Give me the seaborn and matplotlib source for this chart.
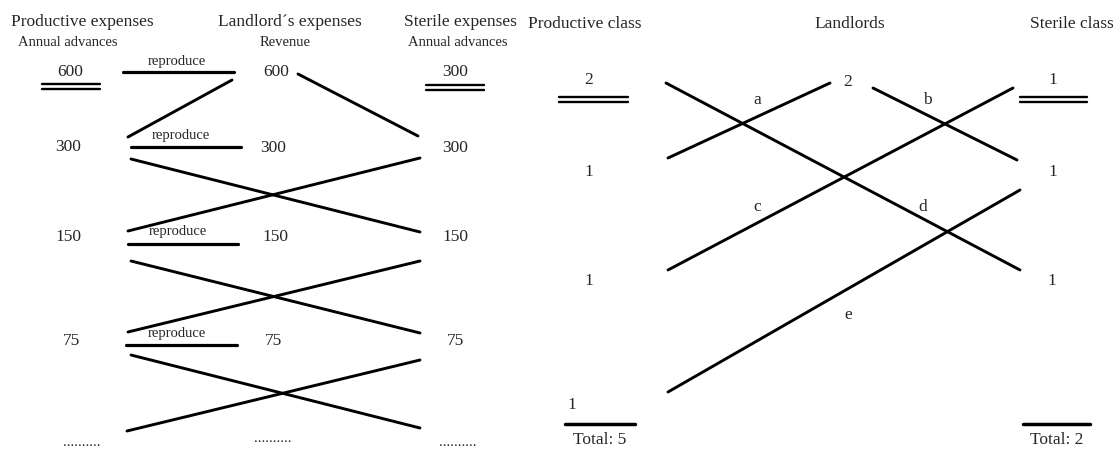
import matplotlib
matplotlib.use("Agg")
import matplotlib.pyplot as plt
import seaborn as sns
import pandas as pd

sns.set_theme(style="white")
plt.rcParams['font.family'] = ['Liberation Serif', 'DejaVu Serif']

# ---------------- data ----------------
left_headers = ["Productive expenses", "Landlord\u00b4s expenses", "Sterile expenses"]
left_subheaders = ["Annual advances", "Revenue", "Annual advances"]
productive_values = [600, 300, 150, 75]
landlord_values = [600, 300, 150, 75]
sterile_values = [300, 300, 150, 75]
reproduce_label = "reproduce"
dots_label = ".........."

right_headers = ["Productive class", "Landlords", "Sterile class"]
right_prod_values = ["2", "1", "1", "1"]
right_land_values = ["2"]
right_ster_values = ["1", "1", "1"]
flow_labels = ["a", "b", "c", "d", "e"]
totals = ["Total: 5", "Total: 2"]

# ---------------- layout (pixel coordinates) ----------------
W, H = 1120, 450
row_y = [72, 147, 237, 341]

# segments: (x0, y0, x1, y1, lw)
segments = [
    # left panel, reproduce lines
    (123, 72, 234, 72, 2.3),
    (131, 147, 241, 147, 2.3),
    (128, 244, 238, 244, 2.3),
    (126, 345, 237, 345, 2.3),
    # left panel, diagonals
    (232, 80, 128, 137, 2.1),
    (298, 74, 418, 136, 2.1),
    (131, 159, 420, 232, 2.1),
    (420, 158, 128, 231, 2.1),
    (131, 261, 420, 333, 2.1),
    (420, 261, 128, 332, 2.1),
    (131, 355, 420, 428, 2.1),
    (420, 360, 127, 431, 2.1),
    # double underlines left
    (42, 84, 100, 84, 1.7), (42, 88.5, 100, 88.5, 1.7),
    (426, 85, 484, 85, 1.7), (426, 89.5, 484, 89.5, 1.7),
    # right panel diagonals
    (666, 83, 1020, 270, 2.1),
    (668, 158, 830, 83, 2.1),
    (873, 88, 1017, 160, 2.1),
    (668, 270, 1013, 88, 2.1),
    (668, 392, 1020, 190, 2.1),
    # double underlines right
    (559, 97, 628, 97, 1.7), (559, 101.5, 628, 101.5, 1.7),
    (1020, 97, 1087, 97, 1.7), (1020, 101.5, 1087, 101.5, 1.7),
    # total lines
    (565, 424, 635, 424, 2.5),
    (1023, 424, 1090, 424, 2.5),
]

rows = []
for i, (x0, y0, x1, y1, lw) in enumerate(segments):
    rows.append({"seg": i, "x": x0, "y": y0, "lw": lw})
    rows.append({"seg": i, "x": x1, "y": y1, "lw": lw})
df = pd.DataFrame(rows)

fig = plt.figure(figsize=(11.2, 4.5), dpi=100)
ax = fig.add_axes([0, 0, 1, 1])

for lw, sub in df.groupby("lw"):
    sns.lineplot(data=sub, x="x", y="y", units="seg", estimator=None,
                 sort=False, color="black", linewidth=lw, ax=ax, legend=False)
ax.set_xlim(0, W)
ax.set_ylim(H, 0)
ax.axis("off")

fs_head = 12.5
fs_sub = 10.5
fs_val = 12.5
fs_rep = 10.5

# left headers
for x, t in zip([82, 290, 460], left_headers):
    ax.text(x, 22, t, ha="center", va="center", fontsize=fs_head)
for x, t in zip([68, 285, 458], left_subheaders):
    ax.text(x, 42, t, ha="center", va="center", fontsize=fs_sub)

# values
lx = [70, 68, 68, 72]
mx = [276, 273, 275, 273]
rx = [455, 455, 455, 455]
mry = [72, 148, 237, 341]
for i in range(len(productive_values)):
    ax.text(lx[i], row_y[i], str(productive_values[i]), ha="center", va="center", fontsize=fs_val)
    ax.text(mx[i], mry[i], str(landlord_values[i]), ha="center", va="center", fontsize=fs_val)
    ax.text(rx[i], mry[i], str(sterile_values[i]), ha="center", va="center", fontsize=fs_val)

for x, y in [(177, 61), (181, 136), (178, 232), (177, 333)]:
    ax.text(x, y, reproduce_label, ha="center", va="center", fontsize=fs_rep)

for x, y in [(82, 442), (273, 439), (458, 442)]:
    ax.text(x, y, dots_label, ha="center", va="center", fontsize=11)

# right panel
for x, t in zip([585, 850, 1072], right_headers):
    ax.text(x, 24, t, ha="center", va="center", fontsize=fs_head)

for (x, y), t in zip([(589, 80), (589, 172), (589, 281), (572, 405)], right_prod_values):
    ax.text(x, y, t, ha="center", va="center", fontsize=fs_val)
for (x, y), t in zip([(848, 82)], right_land_values):
    ax.text(x, y, t, ha="center", va="center", fontsize=fs_val)
for (x, y), t in zip([(1053, 80), (1053, 172), (1052, 281)], right_ster_values):
    ax.text(x, y, t, ha="center", va="center", fontsize=fs_val)

for (x, y), t in zip([(757, 100), (927, 100), (757, 207), (923, 207), (848, 315)], flow_labels):
    ax.text(x, y, t, ha="center", va="center", fontsize=fs_val)

for (x, y), t in zip([(600, 440), (1057, 440)], totals):
    ax.text(x, y, t, ha="center", va="center", fontsize=fs_val)

fig.savefig("out.png", dpi=100, facecolor="white")
